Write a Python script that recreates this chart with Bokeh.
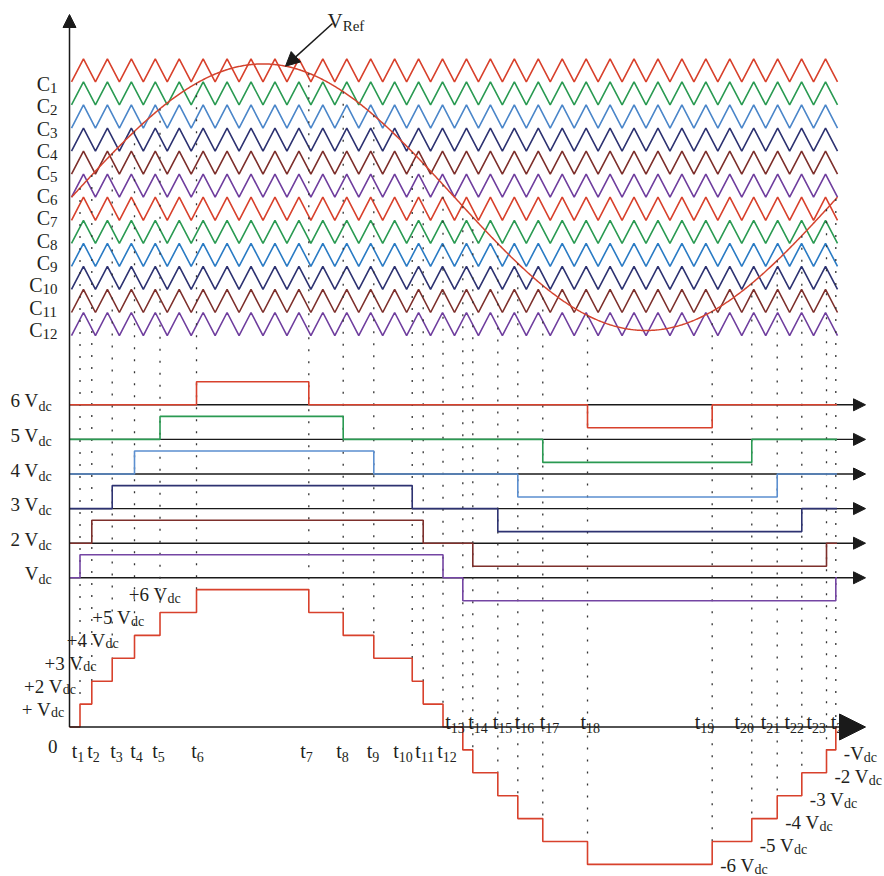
import numpy as np
from bokeh.plotting import figure
from bokeh.models import Range1d, ColumnDataSource, Arrow, NormalHead
from bokeh.core.properties import value
from bokeh.embed import file_html
from bokeh.resources import INLINE

# ------------------------------------------------------------------ data
period_ms = 20.0            # one fundamental period of V_Ref
n_carriers = 12
carrier_cycles = 32         # carrier periods per fundamental period
ref_amplitude = 5.78        # V_Ref peak, in carrier-band units

switch_times = [0.222, 0.530, 1.063, 1.645, 2.311, 3.264, 6.196, 7.094, 7.893,
                8.896, 9.183, 9.700, 10.217, 10.478, 11.131, 11.653, 12.305,
                13.473, 16.728, 17.762, 18.426, 19.068, 19.713, 19.956]
stair_levels = [0, 1, 2, 3, 4, 5, 6, 5, 4, 3, 2, 1, 0,
                -1, -2, -3, -4, -5, -6, -5, -4, -3, -2, -1, 0]

carrier_subs = [str(k) for k in range(1, 13)]
pwm_levels = [6, 5, 4, 3, 2, 1]
pwm_names = ["6 V", "5 V", "4 V", "3 V", "2 V", "V"]
pos_names = ["+ V", "+2 V", "+3 V", "+4 V", "+5 V", "+6 V"]
neg_names = ["-V", "-2 V", "-3 V", "-4 V", "-5 V", "-6 V"]
dc_sub = "dc"
time_subs = [str(i) for i in range(1, 25)]
ref_main, ref_sub = "V", "Ref"

# ------------------------------------------------------------------ styles / layout
RED, GREEN, BLUE, NAVY, BROWN, PURPLE = "#d8412c", "#2a9a52", "#4b86c9", "#2d3271", "#7d2f2b", "#6f3e9e"
carrier_colors = [RED, GREEN, BLUE, NAVY, BROWN, PURPLE,
                  RED, GREEN, "#2a7bc4", NAVY, BROWN, PURPLE]
pwm_colors = {6: RED, 5: GREEN, 4: "#5b8fd0", 3: NAVY, 2: BROWN, 1: "#7445a3"}
INK = "#231f20"
FONT = value("Liberation Serif")

W, H = 884, 876
PX0, PX_PER_MS = 71.0, 38.3


def xt(px):
    return (px - PX0) / PX_PER_MS


def xpx(t):
    return PX0 + t * PX_PER_MS


def y_car(v):
    return 196.7 - 23.06 * np.asarray(v)


def y_pwm(k, s):
    return 404.3 + (6 - k) * 34.6 - 23.0 * np.asarray(s)


def y_st(v):
    return 726.5 - 22.9 * np.asarray(v)


AX = xt(69)
END = xt(836.5)

p = figure(width=W, height=H, x_range=Range1d(xt(0), xt(W)), y_range=Range1d(H, 0),
           output_backend="svg", toolbar_location=None, min_border=0,
           x_axis_type=None, y_axis_type=None)
p.outline_line_color = None
p.background_fill_color = "white"
p.border_fill_color = "white"

# ------------------------------------------------------------------ carriers + reference
nv = 2 * carrier_cycles + 1
tv = np.linspace(0, period_ms, nv)
for k in range(1, n_carriers + 1):
    lo, hi = 6 - k, 7 - k
    vals = np.where(np.arange(nv) % 2 == 0, lo, hi)
    p.line(tv, y_car(vals), line_color=carrier_colors[k - 1], line_width=1.6)

ts = np.linspace(0, period_ms, 721)
vref = ref_amplitude * np.sin(2 * np.pi * ts / period_ms)
p.line(ts, y_car(vref), line_color="#d4432e", line_width=1.5)

# ------------------------------------------------------------------ dotted projection lines
sw = np.array(switch_times)
lv = np.array(stair_levels)
vref_sw = ref_amplitude * np.sin(2 * np.pi * sw / period_ms)
upper = np.maximum(lv[:-1], lv[1:])
p.segment(sw, y_car(vref_sw), sw, y_st(upper), line_color="#333333",
          line_width=1.3, line_dash="2 10")

# ------------------------------------------------------------------ PWM rows
for k in pwm_levels:
    a, b, c, d = sw[k - 1], sw[12 - k], sw[11 + k], sw[24 - k]
    p.add_layout(Arrow(x_start=AX, y_start=float(y_pwm(k, 0)), x_end=xt(865), y_end=float(y_pwm(k, 0)),
                       end=NormalHead(size=12, fill_color="#1a1a1a", line_color="#1a1a1a"),
                       line_color="#1a1a1a", line_width=1.4, level="underlay"))
    xs = [AX, a, a, b, b, c, c, d, d, END]
    ss = [0, 0, 1, 1, 0, 0, -1, -1, 0, 0]
    p.line(xs, y_pwm(k, ss), line_color=pwm_colors[k], line_width=1.6)

# ------------------------------------------------------------------ staircase output
x_st, v_st = [AX], [stair_levels[0]]
for i, t in enumerate(switch_times):
    x_st += [t, t]
    v_st += [stair_levels[i], stair_levels[i + 1]]
x_st.append(END)
v_st.append(stair_levels[-1])
p.line(x_st, y_st(v_st), line_color=RED, line_width=1.6)

# ------------------------------------------------------------------ texts
CW = {'C': 0.667, 't': 0.278, 'V': 0.722, ' ': 0.25, '+': 0.564, '-': 0.333,
      'd': 0.5, 'c': 0.444, 'R': 0.667, 'e': 0.444, 'f': 0.333}


def tw(s, size):
    return sum(CW.get(ch, 0.5) for ch in s) * size


texts = {}


def add_text(x, y, s, size, align):
    g = texts.setdefault((size, align), dict(x=[], y=[], text=[]))
    g["x"].append(float(x))
    g["y"].append(float(y))
    g["text"].append(s)


# carrier labels
for k in range(1, n_carriers + 1):
    sub = carrier_subs[k - 1]
    jx = 57 - tw(sub, 15)
    by = 83.3 + (k - 1) * 22.4
    add_text(xt(jx), by, "C", 20, "right")
    add_text(xt(jx), by + 4, sub, 15, "left")

# PWM labels
for k, name in zip(pwm_levels, pwm_names):
    by = float(y_pwm(k, 0)) - 4
    add_text(xt(38), by, name, 19, "right")
    add_text(xt(38), by + 6, dc_sub, 14, "left")

# staircase labels
for k in range(1, 7):
    jx = xpx(sw[k - 1]) - 29
    by = float(y_st(k)) + 5
    add_text(xt(jx), by, pos_names[k - 1], 19, "right")
    add_text(xt(jx), by + 3.5, dc_sub, 14, "left")
for k in range(1, 7):
    lx = xpx(sw[24 - k]) + 8
    by = float(y_st(-k)) + (4 if k < 6 else 1.5)
    name = neg_names[k - 1]
    add_text(xt(lx), by, name, 19, "left")
    add_text(xt(lx + tw(name, 19)), by + 4, dc_sub, 14, "left")
add_text(xt(57), float(y_st(0)) + 19.5, "0", 19, "right")

# time labels (label-centre nudges in px, to avoid overlaps)
t_dx = [-2, 1.7, 4.3, 2, -1.5, 1, -2.3, -0.7, -0.8, -9.2, 1.8, 4,
        -7.8, 5.2, 4.7, 6.7, 6.7, 2.7, -7.7, -7.6, -6.7, -7.6, -10.2, 4.7]
for i, t in enumerate(switch_times):
    sub = time_subs[i]
    c = xpx(t) + t_dx[i]
    wt, ws = tw("t", 20), tw(sub, 14)
    left = c - (wt + ws) / 2
    by = 750 if i < 12 else 721
    add_text(xt(left), by, "t", 20, "left")
    add_text(xt(left + wt), by + 6, sub, 14, "left")

# V_Ref label
add_text(xt(327), 20, ref_main, 21, "left")
add_text(xt(327 + tw(ref_main, 21)), 25, ref_sub, 15, "left")

for (size, align), g in texts.items():
    p.text(x="x", y="y", text="text", source=ColumnDataSource(g), text_font=FONT,
           text_font_size=f"{size}px", text_align=align, text_baseline="alphabetic",
           text_color=INK)

# ------------------------------------------------------------------ axes & pointer
p.add_layout(Arrow(x_start=AX, y_start=float(y_st(0)), x_end=AX, y_end=14,
                   end=NormalHead(size=13, fill_color="#1a1a1a", line_color="#1a1a1a"),
                   line_color="#1a1a1a", line_width=1.5))
p.add_layout(Arrow(x_start=AX, y_start=float(y_st(0)), x_end=xt(865), y_end=float(y_st(0)),
                   end=NormalHead(size=26, fill_color="#1a1a1a", line_color="#1a1a1a"),
                   line_color="#1a1a1a", line_width=1.5))
t_tip = xt(285)
v_tip = ref_amplitude * np.sin(2 * np.pi * t_tip / period_ms)
p.add_layout(Arrow(x_start=xt(332), y_start=23, x_end=t_tip, y_end=float(y_car(v_tip)),
                   end=NormalHead(size=14, fill_color="#1a1a1a", line_color="#1a1a1a"),
                   line_color="#1a1a1a", line_width=1.5))

open("out.html", "w").write(file_html(p, INLINE))
